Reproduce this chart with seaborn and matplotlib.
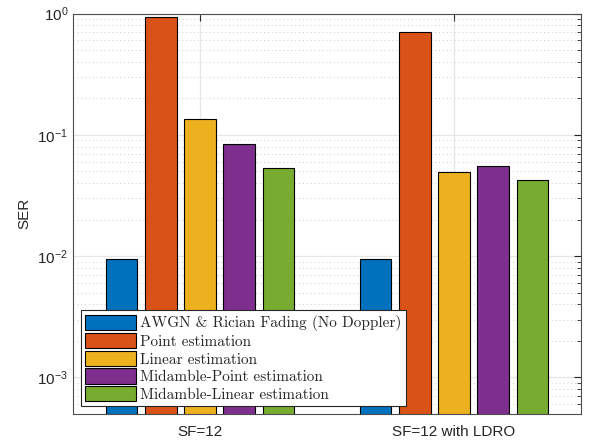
import matplotlib
matplotlib.use("Agg")
import matplotlib.pyplot as plt
import seaborn as sns
import pandas as pd
import numpy as np
from matplotlib.ticker import LogLocator, NullFormatter

groups = ["SF=12", "SF=12 with LDRO"]
methods = ["AWGN & Rician Fading (No Doppler)", "Point estimation", "Linear estimation",
           "Midamble-Point estimation", "Midamble-Linear estimation"]
ser_sf12 = [0.0094, 0.93, 0.135, 0.0838, 0.0532]
ser_ldro = [0.0094, 0.71, 0.049, 0.055, 0.0426]
colors = ["#0072BD", "#D95319", "#EDB120", "#7E2F8E", "#77AC30"]

rows = []
for g, vals in zip(groups, [ser_sf12, ser_ldro]):
    for m, v in zip(methods, vals):
        rows.append({"group": g, "method": m, "SER": v})
df = pd.DataFrame(rows)

sns.set_style("white")
plt.rcParams["font.family"] = ["Liberation Sans", "DejaVu Sans"]
plt.rcParams["mathtext.fontset"] = "custom"
plt.rcParams["mathtext.rm"] = "Liberation Sans"
plt.rcParams["mathtext.it"] = "Liberation Sans:italic"

fig = plt.figure(figsize=(5.89, 4.45), dpi=100)
ax = fig.add_axes([73/589, 1-414/445, (581-73)/589, (414-13.5)/445])
ax.set_yscale("log")
sns.barplot(data=df, x="group", y="SER", hue="method", hue_order=methods,
            palette=colors, saturation=1, width=0.769, gap=0.2, edgecolor="black",
            linewidth=0.8, ax=ax, legend=True)
ax.set_yscale("log")
ax.set_ylim(5e-4, 1)
ax.set_xlim(-0.5, 1.5)
ax.set_xlabel("")
ax.set_ylabel("SER", fontsize=11, color="#262626")
ax.yaxis.set_major_locator(LogLocator(base=10, numticks=10))
ax.yaxis.set_minor_locator(LogLocator(base=10, subs=np.arange(2, 10), numticks=20))
ax.yaxis.set_minor_formatter(NullFormatter())
ax.tick_params(axis="both", which="both", direction="in", top=True, right=True,
               labelsize=11, colors="#262626")
ax.tick_params(axis="y", which="major", length=5)
ax.tick_params(axis="y", which="minor", length=3)
ax.tick_params(axis="x", which="major", length=5, pad=8)
ax.set_axisbelow(True)
ax.grid(True, which="major", color="#e6e6e6", linewidth=0.9, linestyle="-")
ax.yaxis.grid(True, which="minor", color="#cccccc", linewidth=0.7, linestyle=(0, (1, 3)))
for s in ax.spines.values():
    s.set_visible(True)
    s.set_color("#4d4d4d")
    s.set_linewidth(0.8)

leg = ax.legend(loc="lower left", bbox_to_anchor=(0.0, 0.0), frameon=True, fancybox=False,
                prop={"family": "cmr10", "size": 11}, handlelength=3.3, handleheight=1.15,
                labelspacing=0.12, borderpad=0.3, handletextpad=0.3, borderaxespad=0.5)
leg.get_frame().set_edgecolor("#262626")
leg.get_frame().set_linewidth(0.8)
leg.get_frame().set_alpha(1)

fig.savefig("out.png", dpi=100)
